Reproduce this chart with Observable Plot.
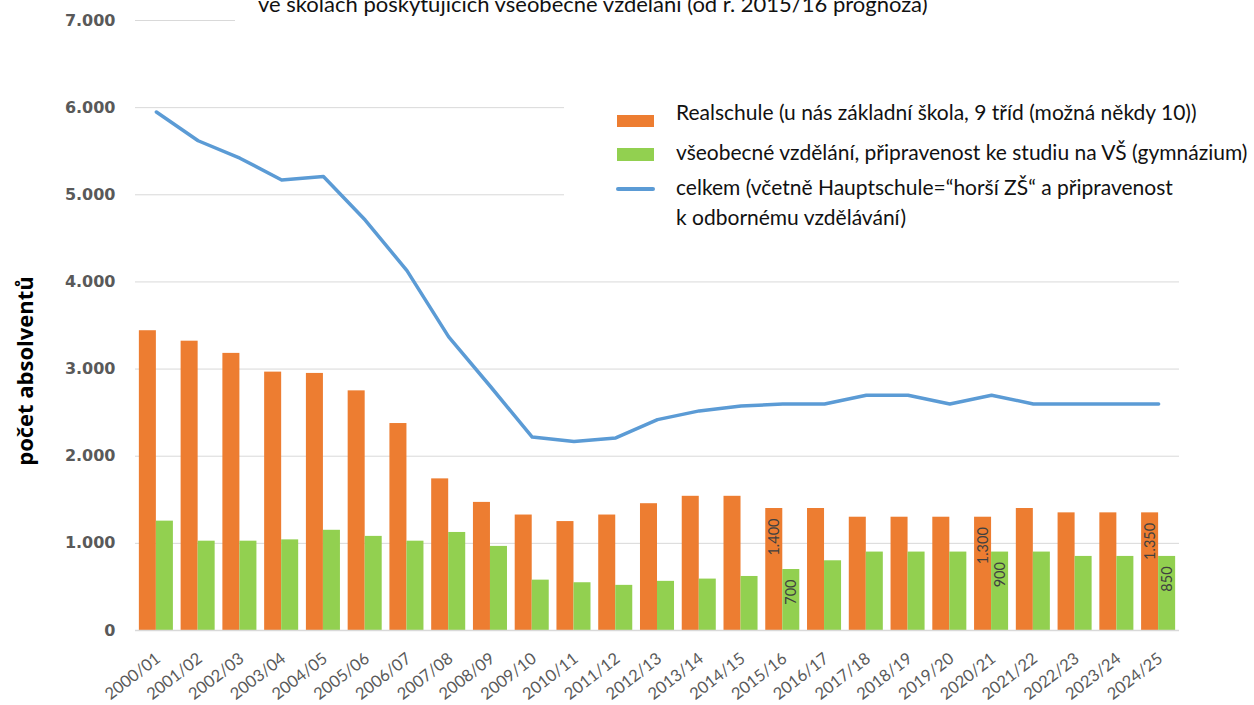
<!DOCTYPE html>
<html>
<head>
<meta charset="utf-8">
<script src="https://cdn.jsdelivr.net/npm/d3@7"></script>
<script src="https://cdn.jsdelivr.net/npm/@observablehq/plot@0.6"></script>
<style>
  html, body { margin: 0; padding: 0; background: #fff; overflow: hidden; }
  #wrap { position: relative; width: 1254px; height: 705px; overflow: hidden; }
  #chart { position: absolute; left: 0; top: 0; }
  #chart svg { overflow: visible; }
  .titlebox { position: absolute; left: 235px; top: 0; width: 1019px; height: 28px; background: #fff; }
  .titlebox span { position: absolute; left: 23px; top: -11px; font: 22px/30px Lato, sans-serif; color: #111; white-space: nowrap; }
  .legend { position: absolute; left: 564px; top: 92px; width: 690px; height: 150px; background: #fff; font: 21px/30px Lato, sans-serif; color: #111; }
  .legend .sw { position: absolute; left: 53px; width: 37px; }
  .legend .tx { position: absolute; left: 112px; white-space: nowrap; }
  .ytitle { position: absolute; left: 24px; top: 371px; transform: translate(-50%, -50%) rotate(-90deg); font: bold 22px "Open Sans", sans-serif; color: #000; white-space: nowrap; }
</style>
</head>
<body>
<div id="wrap">
  <div id="chart"></div>
  <div class="titlebox"><span id="title"></span></div>
  <div class="legend" id="legend"></div>
  <div class="ytitle" id="ytitle"></div>
</div>
<script>
// ---- data ----
const years = ["2000/01","2001/02","2002/03","2003/04","2004/05","2005/06","2006/07","2007/08","2008/09","2009/10",
               "2010/11","2011/12","2012/13","2013/14","2014/15","2015/16","2016/17","2017/18","2018/19","2019/20",
               "2020/21","2021/22","2022/23","2023/24","2024/25"];
const realschule = [3440, 3320, 3180, 2965, 2950, 2750, 2375, 1740, 1470, 1325,
                    1250, 1325, 1455, 1540, 1540, 1400, 1400, 1300, 1300, 1300,
                    1300, 1400, 1350, 1350, 1350];
const gymnasium = [1255, 1025, 1025, 1040, 1150, 1080, 1025, 1125, 965, 578,
                   548, 518, 564, 590, 620, 700, 800, 900, 900, 900,
                   900, 900, 850, 850, 850];
const celkem = [5950, 5620, 5420, 5170, 5210, 4710, 4130, 3370, 2800, 2220,
                2170, 2210, 2420, 2520, 2575, 2600, 2600, 2700, 2700, 2600,
                2700, 2600, 2600, 2600, 2600];
const labelYears = ["2015/16", "2020/21", "2024/25"];
const yTicks = [0, 1000, 2000, 3000, 4000, 5000, 6000, 7000];

const titleText = "ve školách poskytujících všeobecné vzdělání (od r. 2015/16 prognóza)";
const yTitle = "počet absolventů";
const seriesNames = [
  "Realschule (u nás základní škola, 9 tříd (možná někdy 10))",
  "všeobecné vzdělání, připravenost ke studiu na VŠ (gymnázium)",
  "celkem (včetně Hauptschule=“horší ZŠ“ a připravenost\nk odbornému vzdělávání)"
];
const colors = ["#ed7d31", "#92d050", "#5b9bd5"];

// ---- build ----
const fmt = d3.formatLocale({decimal: ",", thousands: ".", grouping: [3], currency: ["", ""]}).format(",d");
const rows = years.map((year, i) => ({year, realschule: realschule[i], gymnasium: gymnasium[i], celkem: celkem[i]}));
const labelled = rows.filter(d => labelYears.includes(d.year));

const W = 1254, H = 705, ML = 135, MR = 75, MT = 20, MB = 75;
const PI = 0.185, PO = 0.0925;
const step = (W - ML - MR) / (years.length - PI + 2 * PO);
const half = step * (1 - PI) / 2;

const chart = Plot.plot({
  width: W, height: H,
  marginLeft: ML, marginRight: MR, marginTop: MT, marginBottom: MB,
  style: {background: "transparent", fontFamily: "Lato, sans-serif"},
  x: {type: "band", domain: years, paddingInner: PI, paddingOuter: PO, align: 0.5, round: false},
  y: {domain: [0, 7000]},
  marks: [
    Plot.gridY(yTicks, {stroke: "#d9d9d9", strokeOpacity: 1, strokeWidth: 1}),
    Plot.barY(rows, {x: "year", y: "realschule", fill: colors[0], insetLeft: 0, insetRight: half}),
    Plot.barY(rows, {x: "year", y: "gymnasium", fill: colors[1], insetLeft: half, insetRight: 0}),
    Plot.ruleY([0], {stroke: "#d9d9d9", strokeWidth: 1.5}),
    Plot.line(rows, {x: "year", y: "celkem", stroke: colors[2], strokeWidth: 3.5, strokeLinejoin: "round", strokeLinecap: "round"}),
    Plot.text(labelled, {x: "year", y: "realschule", text: d => fmt(d.realschule), rotate: -90, textAnchor: "end",
      dx: -half / 2, dy: 10, fill: "#404040", fontSize: 14.5, fontFamily: "Lato, sans-serif"}),
    Plot.text(labelled, {x: "year", y: "gymnasium", text: d => fmt(d.gymnasium), rotate: -90, textAnchor: "end",
      dx: half / 2, dy: 10, fill: "#404040", fontSize: 14.5, fontFamily: "Lato, sans-serif"}),
    Plot.axisY({ticks: yTicks, tickFormat: fmt, tickSize: 0, tickPadding: 20, label: null,
      fontSize: 16, fontWeight: "bold", fill: "#595959", fontFamily: "DejaVu Sans, sans-serif", letterSpacing: "0.6px"}),
    Plot.axisX({tickSize: 0, tickRotate: -38, tickPadding: 26, dx: 2, label: null,
      fontSize: 16.5, fill: "#595959", fontFamily: "Lato, sans-serif"})
  ]
});
document.getElementById("chart").appendChild(chart);

// title, y title
document.getElementById("title").textContent = titleText;
document.getElementById("ytitle").textContent = yTitle;

// legend (layout only)
const legend = document.getElementById("legend");
const legendRows = [
  {kind: "bar", swTop: 23, swH: 12, txTop: 5},
  {kind: "bar", swTop: 56, swH: 13, txTop: 45},
  {kind: "line", swTop: 95, swH: 3.5, txTop: 80}
];
legendRows.forEach((r, i) => {
  const sw = document.createElement("div");
  sw.className = "sw";
  sw.style.top = r.swTop + "px";
  sw.style.height = r.swH + "px";
  sw.style.background = colors[i];
  if (r.kind === "line") { sw.style.borderRadius = "2px"; sw.style.left = "52px"; sw.style.width = "39px"; }
  legend.appendChild(sw);
  const tx = document.createElement("div");
  tx.className = "tx";
  tx.style.top = r.txTop + "px";
  tx.innerHTML = seriesNames[i].split("\n").map(s => s.replace(/&/g, "&amp;").replace(/</g, "&lt;")).join("<br>");
  legend.appendChild(tx);
});
</script>
</body>
</html>
